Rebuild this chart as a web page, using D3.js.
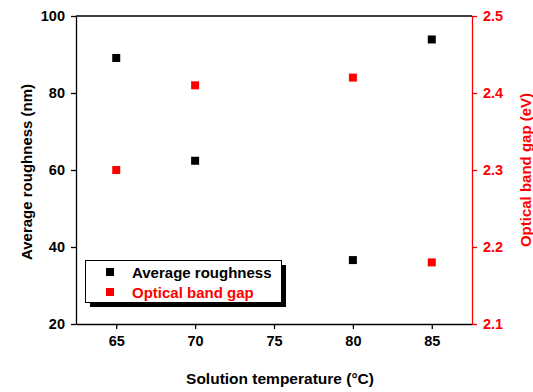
<!DOCTYPE html>
<html>
<head>
  <script src="https://cdnjs.cloudflare.com/ajax/libs/d3/7.8.5/d3.min.js"></script>
  <style>
    body { margin: 0; background: #fff; }
    svg text { font-family: "Liberation Sans", Arial, sans-serif; font-weight: bold; }
  </style>
</head>
<body>
  <svg id="chart" width="533" height="392"></svg>
  <script>
    // data
    var temps = [65, 70, 80, 85];
    var roughness = [89.1, 62.4, 36.6, 93.9];
    var bandGap = [2.30, 2.41, 2.42, 2.18];
    var xTicks = [65, 70, 75, 80, 85];
    var leftTicks = [20, 40, 60, 80, 100];
    var rightTicks = [2.1, 2.2, 2.3, 2.4, 2.5];

    var m = { left: 76, right: 472, top: 16, bottom: 324 };
    var svg = d3.select("#chart");

    var x = d3.scaleLinear().domain([62.45, 87.55]).range([m.left, m.right]);
    var yL = d3.scaleLinear().domain([20, 100]).range([m.bottom, m.top]);
    var yR = d3.scaleLinear().domain([2.1, 2.5]).range([m.bottom, m.top]);

    // top frame line
    svg.append("line")
      .attr("x1", m.left).attr("x2", m.right)
      .attr("y1", m.top).attr("y2", m.top)
      .attr("stroke", "#000").attr("stroke-width", 1.3);

    var xAxis = svg.append("g")
      .attr("transform", "translate(0," + m.bottom + ")")
      .call(d3.axisBottom(x).tickValues(xTicks).tickSize(5).tickPadding(7).tickSizeOuter(0));
    var yAxisL = svg.append("g")
      .attr("transform", "translate(" + m.left + ",0)")
      .call(d3.axisLeft(yL).tickValues(leftTicks).tickSize(5).tickPadding(6).tickSizeOuter(0));
    var yAxisR = svg.append("g")
      .attr("transform", "translate(" + m.right + ",0)")
      .call(d3.axisRight(yR).tickValues(rightTicks).tickSize(5).tickPadding(6).tickSizeOuter(0)
        .tickFormat(d3.format(".1f")));

    [xAxis, yAxisL].forEach(function(a) {
      a.selectAll("path, line").attr("stroke", "#000").attr("stroke-width", 1.3);
      a.selectAll("text").attr("fill", "#000").style("font-size", "14.5px");
    });
    yAxisR.selectAll("path, line").attr("stroke", "#ff0000").attr("stroke-width", 1.3);
    yAxisR.selectAll("text").attr("fill", "#ff0000").style("font-size", "14.5px");

    // axis titles
    svg.append("text")
      .attr("x", 280).attr("y", 384)
      .attr("text-anchor", "middle").style("font-size", "15.5px")
      .text("Solution temperature (°C)");
    svg.append("text")
      .attr("transform", "translate(32,172) rotate(-90)")
      .attr("text-anchor", "middle").style("font-size", "15px")
      .text("Average roughness (nm)");
    svg.append("text")
      .attr("transform", "translate(531,170) rotate(-90)")
      .attr("text-anchor", "middle").attr("fill", "#ff0000").style("font-size", "15px")
      .text("Optical band gap (eV)");

    var s = 8;
    svg.selectAll(".rough").data(temps).enter().append("rect")
      .attr("x", function(d) { return x(d) - s / 2; })
      .attr("y", function(d, i) { return yL(roughness[i]) - s / 2; })
      .attr("width", s).attr("height", s).attr("fill", "#000");
    svg.selectAll(".gap").data(temps).enter().append("rect")
      .attr("x", function(d) { return x(d) - s / 2; })
      .attr("y", function(d, i) { return yR(bandGap[i]) - s / 2; })
      .attr("width", s).attr("height", s).attr("fill", "#ff0000");

    // legend with drop shadow
    var lg = svg.append("g");
    lg.append("rect").attr("x", 90).attr("y", 265).attr("width", 196).attr("height", 42).attr("fill", "#000");
    lg.append("rect").attr("x", 85.5).attr("y", 260.5).attr("width", 196).attr("height", 42)
      .attr("fill", "#fff").attr("stroke", "#000").attr("stroke-width", 1);
    var items = [["Average roughness", "#000"], ["Optical band gap", "#ff0000"]];
    items.forEach(function(it, i) {
      var cy = 272 + i * 20;
      lg.append("rect").attr("x", 106).attr("y", cy - 4).attr("width", s).attr("height", s).attr("fill", it[1]);
      lg.append("text").attr("x", 132).attr("y", cy + 5.5).attr("fill", it[1])
        .style("font-size", "15px").text(it[0]);
    });
  </script>
</body>
</html>
